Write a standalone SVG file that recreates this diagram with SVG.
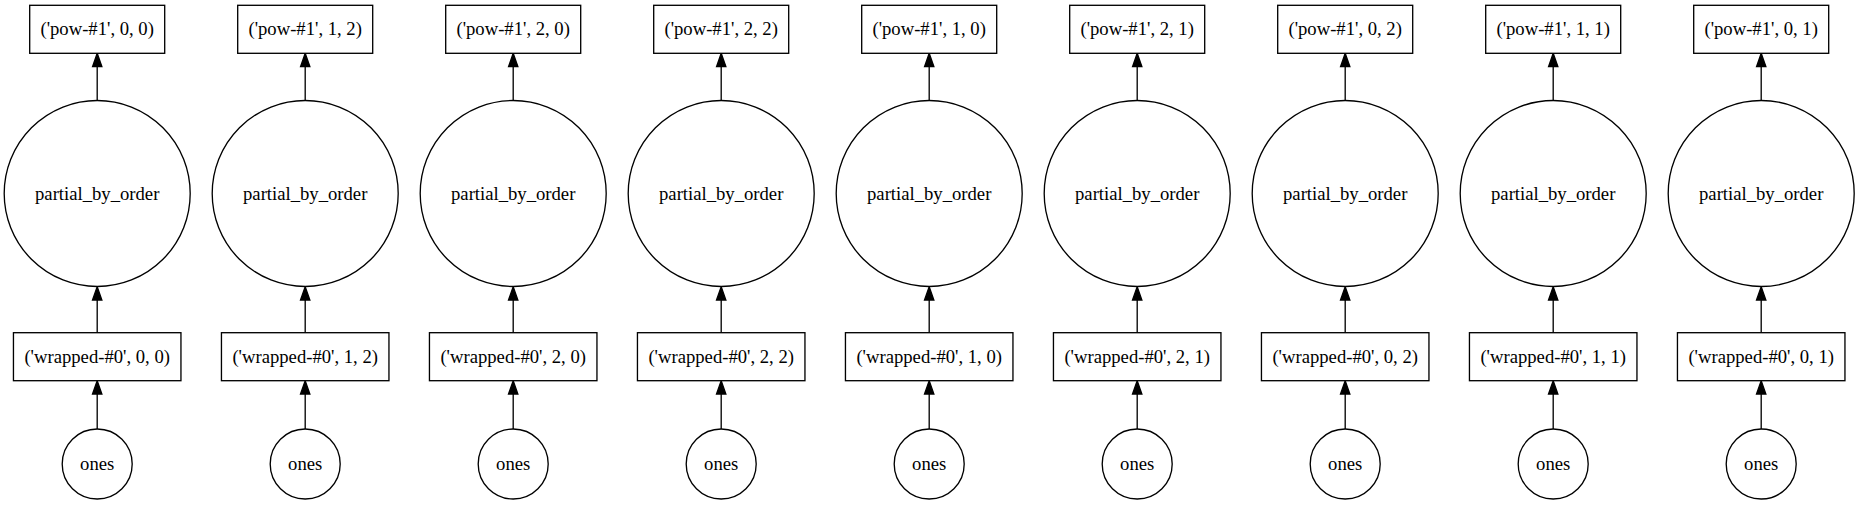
<svg xmlns="http://www.w3.org/2000/svg" width="1859" height="505" viewBox="0 0 1859 505" font-family="'Liberation Serif', 'DejaVu Serif', 'Times New Roman', Times, serif" font-size="18.67">
<style>
.n{fill:#fff;stroke:#000;stroke-width:1.33}
text{text-anchor:middle;fill:#000}
.e{stroke:#000;stroke-width:1.33;fill:none;marker-end:url(#ah)}
</style>
<defs>
<marker id="ah" markerUnits="userSpaceOnUse" markerWidth="16" markerHeight="12" refX="0" refY="0" viewBox="0 -6 16 12" orient="auto" overflow="visible">
<path d="M0,-4.67L13.33,0L0,4.67Z" fill="#000" stroke="#000" stroke-width="1.33"/>
</marker>
</defs>
<rect width="1859" height="505" fill="#fff"/>
<g id="connectors">
<path class="e" d="M97.2,100.5V66.7"/><path class="e" d="M97.2,332.7V300"/><path class="e" d="M97.2,429V394"/>
<path class="e" d="M305.2,100.5V66.7"/><path class="e" d="M305.2,332.7V300"/><path class="e" d="M305.2,429V394"/>
<path class="e" d="M513.2,100.5V66.7"/><path class="e" d="M513.2,332.7V300"/><path class="e" d="M513.2,429V394"/>
<path class="e" d="M721.2,100.5V66.7"/><path class="e" d="M721.2,332.7V300"/><path class="e" d="M721.2,429V394"/>
<path class="e" d="M929.2,100.5V66.7"/><path class="e" d="M929.2,332.7V300"/><path class="e" d="M929.2,429V394"/>
<path class="e" d="M1137.2,100.5V66.7"/><path class="e" d="M1137.2,332.7V300"/><path class="e" d="M1137.2,429V394"/>
<path class="e" d="M1345.2,100.5V66.7"/><path class="e" d="M1345.2,332.7V300"/><path class="e" d="M1345.2,429V394"/>
<path class="e" d="M1553.2,100.5V66.7"/><path class="e" d="M1553.2,332.7V300"/><path class="e" d="M1553.2,429V394"/>
<path class="e" d="M1761.2,100.5V66.7"/><path class="e" d="M1761.2,332.7V300"/><path class="e" d="M1761.2,429V394"/>
</g>
<g id="col1">
<g id="pow-0-0"><rect class="n" x="29.7" y="5.3" width="135" height="48"/><text x="97.2" y="35">('pow-#1', 0, 0)</text></g>
<g id="pbo-0-0"><circle class="n" cx="97.2" cy="193.5" r="93"/><text x="97.2" y="200">partial_by_order</text></g>
<g id="wrapped-0-0"><rect class="n" x="13.45" y="332.7" width="167.5" height="48"/><text x="97.2" y="363">('wrapped-#0', 0, 0)</text></g>
<g id="ones-0-0"><circle class="n" cx="97.2" cy="464" r="35"/><text x="97.2" y="470">ones</text></g>
</g>
<g id="col2">
<g id="pow-1-2"><rect class="n" x="237.7" y="5.3" width="135" height="48"/><text x="305.2" y="35">('pow-#1', 1, 2)</text></g>
<g id="pbo-1-2"><circle class="n" cx="305.2" cy="193.5" r="93"/><text x="305.2" y="200">partial_by_order</text></g>
<g id="wrapped-1-2"><rect class="n" x="221.45" y="332.7" width="167.5" height="48"/><text x="305.2" y="363">('wrapped-#0', 1, 2)</text></g>
<g id="ones-1-2"><circle class="n" cx="305.2" cy="464" r="35"/><text x="305.2" y="470">ones</text></g>
</g>
<g id="col3">
<g id="pow-2-0"><rect class="n" x="445.7" y="5.3" width="135" height="48"/><text x="513.2" y="35">('pow-#1', 2, 0)</text></g>
<g id="pbo-2-0"><circle class="n" cx="513.2" cy="193.5" r="93"/><text x="513.2" y="200">partial_by_order</text></g>
<g id="wrapped-2-0"><rect class="n" x="429.45" y="332.7" width="167.5" height="48"/><text x="513.2" y="363">('wrapped-#0', 2, 0)</text></g>
<g id="ones-2-0"><circle class="n" cx="513.2" cy="464" r="35"/><text x="513.2" y="470">ones</text></g>
</g>
<g id="col4">
<g id="pow-2-2"><rect class="n" x="653.7" y="5.3" width="135" height="48"/><text x="721.2" y="35">('pow-#1', 2, 2)</text></g>
<g id="pbo-2-2"><circle class="n" cx="721.2" cy="193.5" r="93"/><text x="721.2" y="200">partial_by_order</text></g>
<g id="wrapped-2-2"><rect class="n" x="637.45" y="332.7" width="167.5" height="48"/><text x="721.2" y="363">('wrapped-#0', 2, 2)</text></g>
<g id="ones-2-2"><circle class="n" cx="721.2" cy="464" r="35"/><text x="721.2" y="470">ones</text></g>
</g>
<g id="col5">
<g id="pow-1-0"><rect class="n" x="861.7" y="5.3" width="135" height="48"/><text x="929.2" y="35">('pow-#1', 1, 0)</text></g>
<g id="pbo-1-0"><circle class="n" cx="929.2" cy="193.5" r="93"/><text x="929.2" y="200">partial_by_order</text></g>
<g id="wrapped-1-0"><rect class="n" x="845.45" y="332.7" width="167.5" height="48"/><text x="929.2" y="363">('wrapped-#0', 1, 0)</text></g>
<g id="ones-1-0"><circle class="n" cx="929.2" cy="464" r="35"/><text x="929.2" y="470">ones</text></g>
</g>
<g id="col6">
<g id="pow-2-1"><rect class="n" x="1069.7" y="5.3" width="135" height="48"/><text x="1137.2" y="35">('pow-#1', 2, 1)</text></g>
<g id="pbo-2-1"><circle class="n" cx="1137.2" cy="193.5" r="93"/><text x="1137.2" y="200">partial_by_order</text></g>
<g id="wrapped-2-1"><rect class="n" x="1053.45" y="332.7" width="167.5" height="48"/><text x="1137.2" y="363">('wrapped-#0', 2, 1)</text></g>
<g id="ones-2-1"><circle class="n" cx="1137.2" cy="464" r="35"/><text x="1137.2" y="470">ones</text></g>
</g>
<g id="col7">
<g id="pow-0-2"><rect class="n" x="1277.7" y="5.3" width="135" height="48"/><text x="1345.2" y="35">('pow-#1', 0, 2)</text></g>
<g id="pbo-0-2"><circle class="n" cx="1345.2" cy="193.5" r="93"/><text x="1345.2" y="200">partial_by_order</text></g>
<g id="wrapped-0-2"><rect class="n" x="1261.45" y="332.7" width="167.5" height="48"/><text x="1345.2" y="363">('wrapped-#0', 0, 2)</text></g>
<g id="ones-0-2"><circle class="n" cx="1345.2" cy="464" r="35"/><text x="1345.2" y="470">ones</text></g>
</g>
<g id="col8">
<g id="pow-1-1"><rect class="n" x="1485.7" y="5.3" width="135" height="48"/><text x="1553.2" y="35">('pow-#1', 1, 1)</text></g>
<g id="pbo-1-1"><circle class="n" cx="1553.2" cy="193.5" r="93"/><text x="1553.2" y="200">partial_by_order</text></g>
<g id="wrapped-1-1"><rect class="n" x="1469.45" y="332.7" width="167.5" height="48"/><text x="1553.2" y="363">('wrapped-#0', 1, 1)</text></g>
<g id="ones-1-1"><circle class="n" cx="1553.2" cy="464" r="35"/><text x="1553.2" y="470">ones</text></g>
</g>
<g id="col9">
<g id="pow-0-1"><rect class="n" x="1693.7" y="5.3" width="135" height="48"/><text x="1761.2" y="35">('pow-#1', 0, 1)</text></g>
<g id="pbo-0-1"><circle class="n" cx="1761.2" cy="193.5" r="93"/><text x="1761.2" y="200">partial_by_order</text></g>
<g id="wrapped-0-1"><rect class="n" x="1677.45" y="332.7" width="167.5" height="48"/><text x="1761.2" y="363">('wrapped-#0', 0, 1)</text></g>
<g id="ones-0-1"><circle class="n" cx="1761.2" cy="464" r="35"/><text x="1761.2" y="470">ones</text></g>
</g>
</svg>
